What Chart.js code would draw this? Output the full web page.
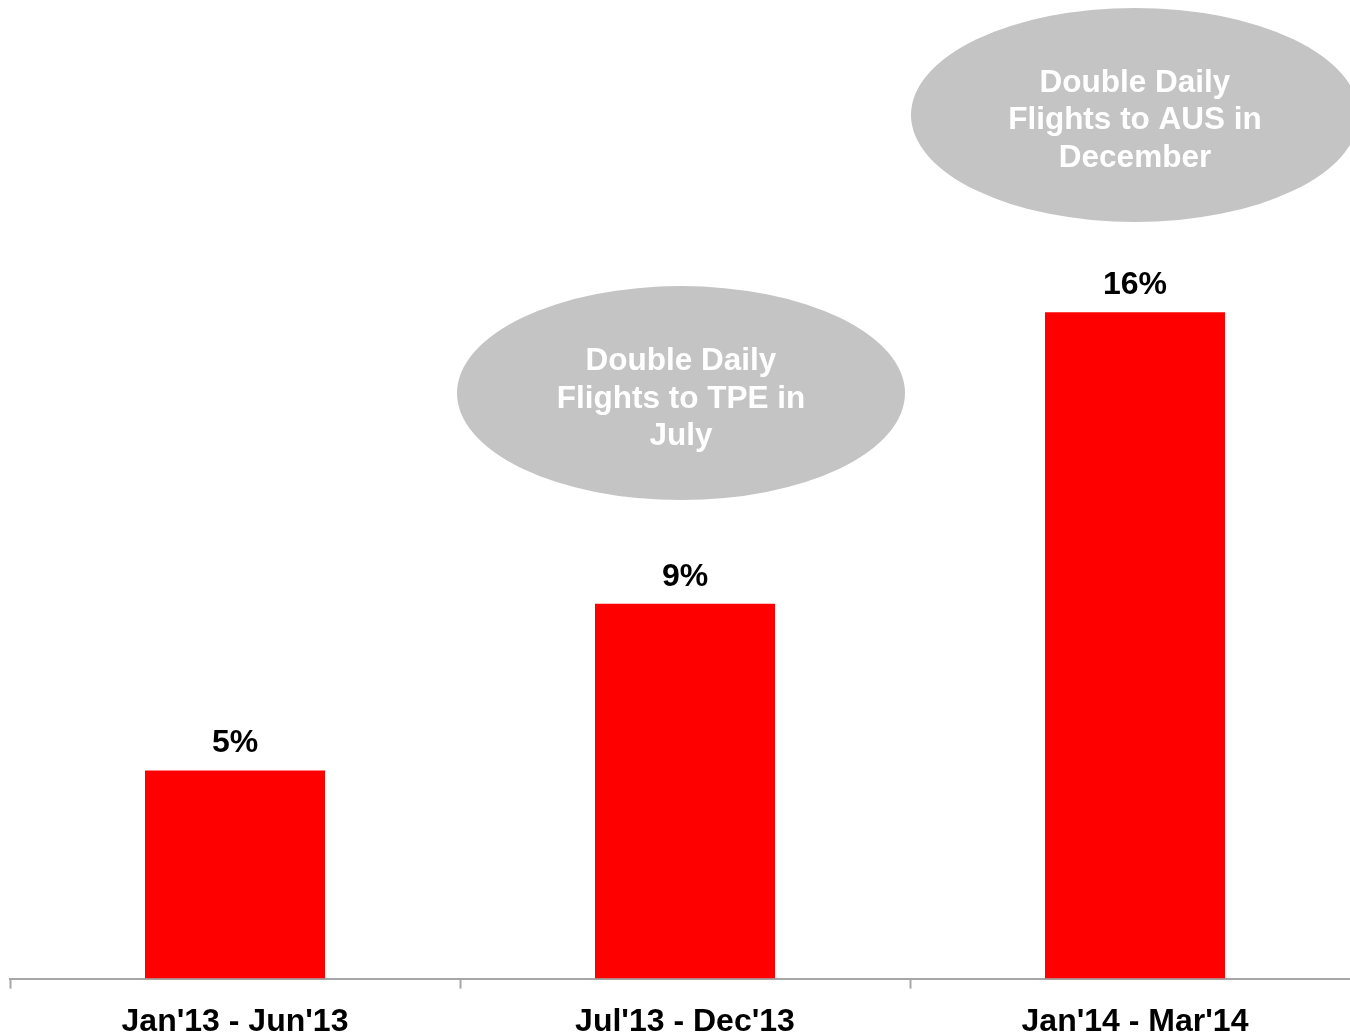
<!DOCTYPE html>
<html><head><meta charset="utf-8">
<script src="https://cdn.jsdelivr.net/npm/chart.js@4/dist/chart.umd.min.js"></script>
<style>
html,body{margin:0;padding:0;background:#fff;overflow:hidden;}
#wrap{width:1350px;height:1035px;overflow:hidden;position:relative;}
canvas{display:block;}
</style></head><body>
<div id="wrap"><canvas id="c" width="1360" height="1055"></canvas></div>
<script>
// Period labels and capacity growth (%)
const periods = ["Jan'13 - Jun'13", "Jul'13 - Dec'13", "Jan'14 - Mar'14"];
const growthPct = [5, 9, 16];
const valueLabels = ["5%", "9%", "16%"];

// Route announcements shown in bubbles above the bars
const calloutLines = [
  ["Double Daily", "Flights to TPE in", "July"],
  ["Double Daily", "Flights to AUS in", "December"]
];
const calloutCategory = [1, 2];

const FONT = "'Liberation Sans', Arial, Helvetica, sans-serif";

// Percent labels above each bar
const valueLabelPlugin = {
  id: 'valueLabels',
  afterDatasetsDraw(chart) {
    const ctx = chart.ctx;
    const meta = chart.getDatasetMeta(0);
    ctx.save();
    ctx.font = 'bold 32px ' + FONT;
    ctx.fillStyle = '#000';
    ctx.textAlign = 'center';
    ctx.textBaseline = 'alphabetic';
    meta.data.forEach((bar, i) => {
      ctx.fillText(valueLabels[i], bar.x, bar.y - 18);
    });
    ctx.restore();
  }
};

// Grey elliptical callouts with white text
const calloutPlugin = {
  id: 'callouts',
  afterDraw(chart, args, opts) {
    const ctx = chart.ctx;
    const xs = chart.scales.x, ys = chart.scales.y;
    ctx.save();
    opts.items.forEach((item, k) => {
      const cx = xs.getPixelForValue(calloutCategory[k]) + item.dx;
      const cy = ys.getPixelForValue(item.level);
      ctx.beginPath();
      ctx.ellipse(cx, cy, opts.rx, opts.ry, 0, 0, Math.PI * 2);
      ctx.fillStyle = '#c4c4c4';
      ctx.fill();
      ctx.font = 'bold 31.5px ' + FONT;
      ctx.fillStyle = '#fff';
      ctx.textAlign = 'center';
      ctx.textBaseline = 'alphabetic';
      calloutLines[k].forEach((line, j) => {
        ctx.fillText(line, cx, cy - 23 + j * 37.5);
      });
    });
    ctx.restore();
  }
};

new Chart(document.getElementById('c'), {
  type: 'bar',
  data: {
    labels: periods,
    datasets: [{
      data: growthPct,
      backgroundColor: '#ff0000',
      borderWidth: 0,
      barPercentage: 0.4,
      categoryPercentage: 1.0
    }]
  },
  options: {
    responsive: false,
    animation: false,
    layout: { padding: { left: 10, right: 0, top: 0, bottom: 0 } },
    plugins: {
      legend: { display: false },
      tooltip: { enabled: false },
      callouts: {
        rx: 224, ry: 107,
        items: [ { dx: -4, level: 14.06 }, { dx: 0, level: 20.74 } ]
      }
    },
    scales: {
      x: {
        offset: true,
        grid: {
          offset: true,
          drawOnChartArea: false,
          drawTicks: true,
          tickLength: 10,
          tickWidth: 2,
          tickColor: '#a6a6a6'
        },
        border: { display: true, color: '#a6a6a6', width: 2 },
        ticks: {
          color: '#000',
          padding: 14,
          maxRotation: 0,
          font: { family: FONT, size: 32, weight: 'bold' }
        }
      },
      y: {
        display: false,
        min: 0,
        max: 23.5
      }
    }
  },
  plugins: [valueLabelPlugin, calloutPlugin]
});
</script>
</body></html>
